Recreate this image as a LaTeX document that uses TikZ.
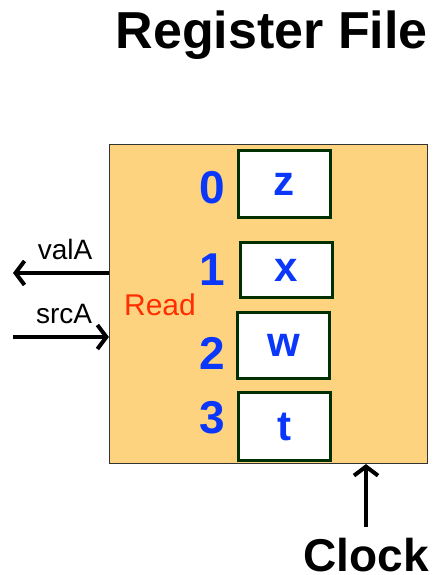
\documentclass[tikz,border=0pt]{standalone}
\usepackage{fontspec}
\setmainfont{Liberation Sans}
\usepackage{xcolor}
\definecolor{rfback}{RGB}{253,211,128}
\definecolor{regblue}{RGB}{10,55,250}
\definecolor{regedge}{RGB}{0,48,0}
\definecolor{readred}{RGB}{255,45,0}
\usetikzlibrary{arrows.meta, positioning}
\tikzset{
  regfile/.style={
    rectangle, draw=black!80, fill=rfback, line width=1.2pt,
    minimum width=318pt, minimum height=319pt
  },
  regbox/.style={
    rectangle, draw=regedge, fill=white, line width=3pt,
    minimum width=92pt, inner sep=0pt,
    text=regblue, font=\fontsize{42}{42}\selectfont\bfseries
  },
  regnum/.style={
    inner sep=0pt, text=regblue,
    font=\fontsize{46}{46}\selectfont\bfseries
  },
  sigtext/.style={inner sep=0pt, font=\fontsize{28}{28}\selectfont},
  bigtext/.style={inner sep=0pt, font=\fontsize{46}{46}\selectfont\bfseries},
  sigarrow/.style={line width=4pt, -{Straight Barb[length=9pt,width=24pt]}},
}
\begin{document}
\begin{tikzpicture}[x=1pt,y=1pt]
  \useasboundingbox (0,0) rectangle (435,575);

  \node (title) [bigtext, anchor=base east, font=\fontsize{52}{52}\selectfont\bfseries] at (428,526) {Register File};

  \node (rf) [regfile] at (268.5,271) {};

  % registers
  \node (rz) [regbox, minimum height=67pt] at (284,391)   {z};
  \node (rx) [regbox, minimum height=55pt] at (286.5,305) {x};
  \node (rw) [regbox, minimum height=66pt] at (283.5,229.5) {w};
  \node (rt) [regbox, minimum height=68pt] at (284.5,148.5) {t};

  \node (n0) [regnum] at (212,387) {0};
  \node (n1) [regnum] at (212,305) {1};
  \node (n2) [regnum] at (212,222) {2};
  \node (n3) [regnum] at (212,157) {3};

  \node (read) [sigtext, text=readred, font=\fontsize{30}{30}\selectfont] at (160,270) {Read};

  % read port
  \coordinate (valAtip)  at (13,302);
  \coordinate (srcAtail) at (13,238);
  \node (valA) [sigtext] at (65,326) {valA};
  \node (srcA) [sigtext] at (64,261) {srcA};
  \draw [sigarrow] (rf.west |- valAtip) -- (valAtip);
  \draw [sigarrow] (srcAtail) -- (rf.west |- srcAtail);

  % clock
  \node (clk) [bigtext] at (366,20) {Clock};
  \draw [sigarrow, shorten <=11pt] (clk.north) -- (clk.north |- rf.south);
\end{tikzpicture}
\end{document}
